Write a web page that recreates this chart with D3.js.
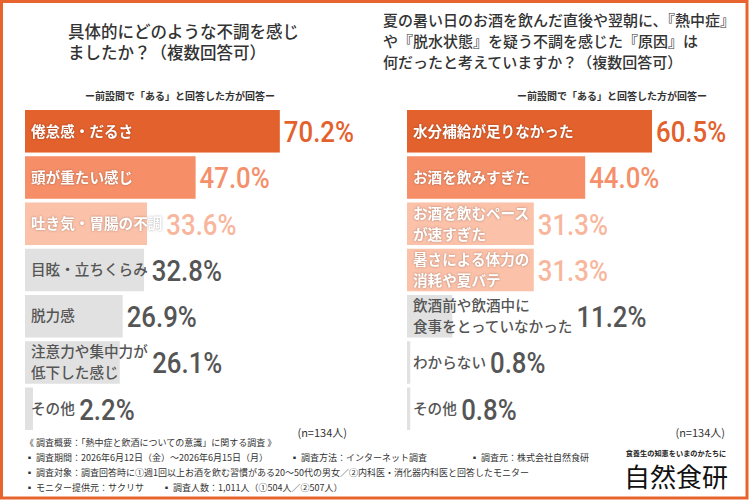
<!DOCTYPE html>
<html>
<head>
<meta charset="utf-8">
<script src="https://cdn.jsdelivr.net/npm/d3@7"></script>
<style>
  body { margin: 0; background: #fff; }
  text { font-family: "Noto Sans CJK JP", "Noto Sans", sans-serif; }
  .val { font-family: Roboto, "Liberation Sans", sans-serif; font-weight: 500; }
  .onbar { filter: drop-shadow(0 0 1.2px rgba(0,0,0,0.3)); }
</style>
</head>
<body>
<script>
  // data
  var leftTitle = ["具体的にどのような不調を感じ", "ましたか？（複数回答可）"];
  var rightTitle = ["夏の暑い日のお酒を飲んだ直後や翌朝に、『熱中症』", "や『脱水状態』を疑う不調を感じた『原因』は", "何だったと考えていますか？（複数回答可）"];
  var subTitle = "ー前設問で「ある」と回答した方が回答ー";
  var nLabel = "(n=134人)";

  var leftLabels = ["倦怠感・だるさ", "頭が重たい感じ", "吐き気・胃腸の不調", "目眩・立ちくらみ", "脱力感", "注意力や集中力が\n低下した感じ", "その他"];
  var leftValues = [70.2, 47.0, 33.6, 32.8, 26.9, 26.1, 2.2];

  var rightLabels = ["水分補給が足りなかった", "お酒を飲みすぎた", "お酒を飲むペース\nが速すぎた", "暑さによる体力の\n消耗や夏バテ", "飲酒前や飲酒中に\n食事をとっていなかった", "わからない", "その他"];
  var rightValues = [60.5, 44.0, 31.3, 31.3, 11.2, 0.8, 0.8];

  var footLines = [
    [{ x: 25, t: "《 調査概要：「熱中症と飲酒についての意識」に関する調査 》" }],
    [{ x: 25, t: "▪ 調査期間：2026年6月12日（金）～2026年6月15日（月）" }, { x: 290, t: "▪ 調査方法：インターネット調査" }, { x: 470, t: "▪ 調査元：株式会社自然食研" }],
    [{ x: 25, t: "▪ 調査対象：調査回答時に①週1回以上お酒を飲む習慣がある20〜50代の男女／②内科医・消化器内科医と回答したモニター" }],
    [{ x: 25, t: "▪ モニター提供元：サクリサ" }, { x: 162, t: "▪ 調査人数：1,011人（①504人／②507人）" }]
  ];

  // colours by rank (ties share a colour)
  var barColor = ["#e3612d", "#f68f68", "#fbc1a9"];
  var valColor = ["#e3612d", "#f5906a", "#f8b79d"];
  var grayBar = "#e1e1e1";
  var grayText = "#555";

  var svg = d3.select("body").append("svg").attr("width", 750).attr("height", 500);

  // frame
  svg.append("rect")
    .attr("x", 1.5).attr("y", 1.5)
    .attr("width", 745.5).attr("height", 496.5)
    .attr("fill", "#fff")
    .attr("stroke", "#e8642e")
    .attr("stroke-width", 3);

  function drawTitle(lines, x, y0, size) {
    svg.append("g").selectAll("text")
      .data(lines)
      .enter()
      .append("text")
      .attr("x", x)
      .attr("y", function(d, i) { return y0 + i * 21; })
      .attr("font-size", size)
      .attr("font-weight", 500)
      .attr("fill", "#333")
      .text(function(d) { return d; });
  }
  drawTitle(leftTitle, 68, 38, 16.5);
  drawTitle(rightTitle, 383, 25.5, 15);

  function drawPanel(labels, values, x0, x1, subX, nX) {
    var x = d3.scaleLinear().domain([0, 100]).range([x0, x1]);
    var y = d3.scaleBand().domain(d3.range(values.length)).range([110, 430]).paddingInner(0.08);

    // dense rank for colour
    var uniq = Array.from(new Set(values)).sort(d3.descending);
    function rank(v) { return uniq.indexOf(v); }

    svg.append("text")
      .attr("x", subX).attr("y", 99.5)
      .attr("text-anchor", "middle")
      .attr("font-size", 10)
      .attr("font-weight", 700)
      .attr("fill", "#333")
      .text(subTitle);

    var rows = svg.append("g")
      .selectAll("g")
      .data(values)
      .enter()
      .append("g");

    rows.append("rect")
      .attr("x", x(0))
      .attr("y", function(d, i) { return y(i); })
      .attr("width", function(d) { return x(d) - x(0); })
      .attr("height", y.bandwidth())
      .attr("fill", function(d) { var r = rank(d); return r < 3 ? barColor[r] : grayBar; });

    var labelText = rows.append("text")
      .attr("class", function(d) { return rank(d) < 3 ? "onbar" : null; })
      .attr("x", x(0) + 6)
      .attr("font-size", 14.6)
      .attr("font-weight", function(d) { return rank(d) < 3 ? 700 : 500; })
      .attr("fill", function(d) { return rank(d) < 3 ? "#fff" : grayText; });

    labelText.each(function(d, i) {
      var parts = labels[i].split("\n");
      var cy = y(i) + y.bandwidth() / 2;
      var t = d3.select(this);
      parts.forEach(function(p, j) {
        t.append("tspan")
          .attr("x", x(0) + 6)
          .attr("y", cy + (j - (parts.length - 1) / 2) * 21)
          .attr("dy", "0.36em")
          .text(p);
      });
    });

    // values, squeezed sideways to look like a condensed face
    rows.append("text")
      .attr("class", "val")
      .attr("transform", function(d, i) {
        var lab = labelText.nodes()[i].getBBox();
        var vx = Math.max(x(d), lab.x + lab.width) + 4;
        var vy = y(i) + y.bandwidth() / 2 + 10.8;
        return "translate(" + vx + "," + vy + ") scale(0.86,1)";
      })
      .attr("font-size", 30)
      .attr("fill", function(d) { var r = rank(d); return r < 3 ? valColor[r] : grayText; })
      .text(function(d) { return d.toFixed(1) + "%"; });

    svg.append("text")
      .attr("x", nX).attr("y", 437)
      .attr("text-anchor", "end")
      .attr("font-size", 11)
      .attr("fill", "#333")
      .text(nLabel);
  }

  drawPanel(leftLabels, leftValues, 25, 388, 180, 347);
  drawPanel(rightLabels, rightValues, 407, 812, 612, 725);

  // footer
  footLines.forEach(function(line, i) {
    svg.append("g").selectAll("text")
      .data(line)
      .enter()
      .append("text")
      .attr("x", function(d) { return d.x; })
      .attr("y", 446 + i * 15)
      .attr("font-size", 9)
      .attr("fill", "#333")
      .text(function(d) { return d.t; });
  });

  // logo
  svg.append("text")
    .attr("x", 676).attr("y", 455.5)
    .attr("text-anchor", "middle")
    .attr("font-size", 7.2)
    .attr("font-weight", 700)
    .attr("fill", "#222")
    .text("食養生の知恵をいまのかたちに");
  svg.append("text")
    .attr("x", 676).attr("y", 487)
    .attr("text-anchor", "middle")
    .attr("font-size", 26)
    .attr("font-weight", 400)
    .attr("fill", "#111")
    .text("自然食研");
</script>
</body>
</html>
